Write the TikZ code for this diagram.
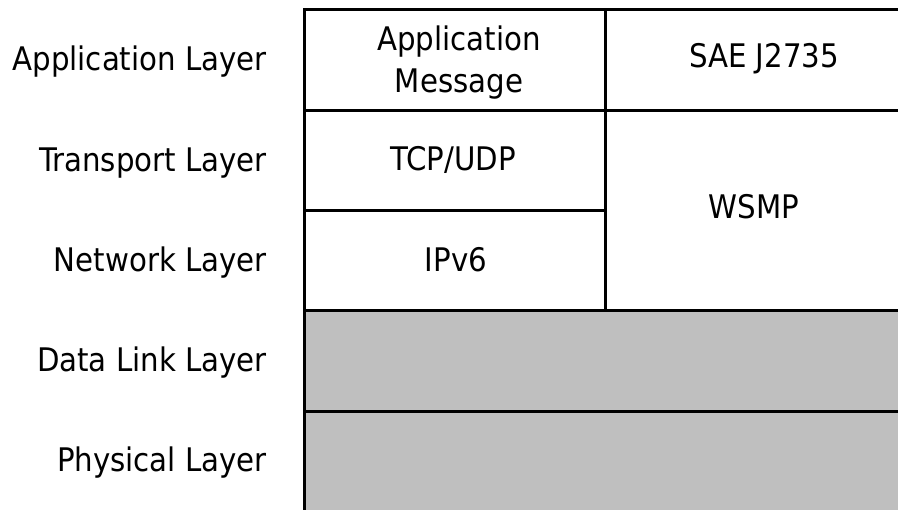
\documentclass[tikz,border=0pt]{standalone}
\usepackage{fontspec}
\setmainfont{DejaVu Sans Condensed}

\definecolor{lowgray}{RGB}{191,191,191}

\tikzstyle{layer} = [anchor=base east, inner sep=0pt]
\tikzstyle{proto} = [anchor=base, inner sep=0pt]
\tikzstyle{cell} = [draw, line width=3pt]

\begin{document}
\begin{tikzpicture}[x=1pt, y=-1pt, font=\fontsize{32.5}{41.6}\selectfont]
  \useasboundingbox (0,0) rectangle (898,510);
  \clip (0,0) rectangle (898,510);

  % lower layers, shaded
  \draw [cell, fill=lowgray] (304.3,311) rectangle (930,411.3);
  \draw [cell, fill=lowgray] (304.3,411.3) rectangle (930,520);
  % protocol cells
  \draw [cell] (304.3,9.3) rectangle (605,110.3);
  \draw [cell] (605,9.3) rectangle (930,110.3);
  \draw [cell] (304.3,110.3) rectangle (605,211);
  \draw [cell] (304.3,211) rectangle (605,311);
  \draw [cell] (605,110.3) rectangle (930,311);

  \node (applayer) at (267,70.3) [layer] {Application Layer};
  \node (translayer) at (267,171.2) [layer] {Transport Layer};
  \node (netlayer) at (267,271.5) [layer] {Network Layer};
  \node (linklayer) at (267,371.7) [layer] {Data Link Layer};
  \node (phylayer) at (267,472) [layer] {Physical Layer};

  \node (appmsg) at (459,62.5) [inner sep=0pt, align=center] {Application\\Message};
  \node (j2735) at (764,68) [proto] {SAE J2735};
  \node (tcpudp) at (453,171) [proto] {TCP/UDP};
  \node (wsmp) at (754,219) [proto] {WSMP};
  \node (ipv6) at (456,272) [proto] {IPv6};
\end{tikzpicture}
\end{document}
